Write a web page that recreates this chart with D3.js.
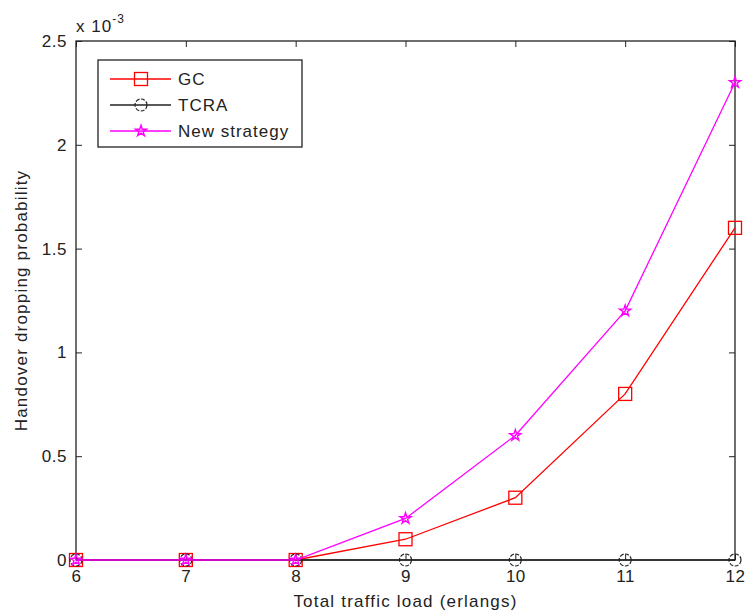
<!DOCTYPE html>
<html>
<head>
<meta charset="utf-8">
<script src="https://cdn.jsdelivr.net/npm/d3@7"></script>
<style>
  body { margin: 0; background: #fff; }
  text { font-family: "Liberation Sans", Arial, sans-serif; fill: #222; letter-spacing: 1px; }
</style>
</head>
<body>
<svg id="chart" width="746" height="615"></svg>
<script>
// chart data (values in units of 1e-3)
const loads = [6, 7, 8, 9, 10, 11, 12];
const gcValues = [0, 0, 0, 0.1, 0.3, 0.8, 1.6];
const tcraValues = [0, 0, 0, 0, 0, 0, 0];
const newValues = [0, 0, 0, 0.2, 0.6, 1.2, 2.3];
const yTicks = [0, 0.5, 1, 1.5, 2, 2.5];
const seriesNames = ["GC", "TCRA", "New strategy"];

const svg = d3.select("#chart");
const margin = { left: 76, right: 11, top: 41, bottom: 55 };
const width = 746, height = 615;

const x = d3.scaleLinear().domain([6, 12]).range([margin.left, width - margin.right]);
const y = d3.scaleLinear().domain([0, 2.5]).range([height - margin.bottom, margin.top]);

// axes with inward ticks, mirrored on top/right
const tick = 6;
svg.append("g")
  .attr("transform", `translate(0,${y(0)})`)
  .call(d3.axisBottom(x).tickValues(loads).tickSizeInner(-tick).tickSizeOuter(0).tickPadding(10).tickFormat(d3.format("d")))
  .call(g => g.select(".domain").remove());
svg.append("g")
  .attr("transform", `translate(0,${y(2.5)})`)
  .call(d3.axisTop(x).tickValues(loads).tickSizeInner(-tick).tickSizeOuter(0).tickFormat(""))
  .call(g => g.select(".domain").remove());
svg.append("g")
  .attr("transform", `translate(${x(6)},0)`)
  .call(d3.axisLeft(y).tickValues(yTicks).tickSizeInner(-tick).tickSizeOuter(0).tickPadding(9).tickFormat(d => d3.format("")(d)))
  .call(g => g.select(".domain").remove());
svg.append("g")
  .attr("transform", `translate(${x(12)},0)`)
  .call(d3.axisRight(y).tickValues(yTicks).tickSizeInner(-tick).tickSizeOuter(0).tickFormat(""))
  .call(g => g.select(".domain").remove());

svg.selectAll(".tick line").attr("stroke", "#222");
svg.selectAll(".tick text").style("font-size", "17px").style("letter-spacing", "0.5px").attr("fill", "#222");

svg.append("rect")
  .attr("x", x(6)).attr("y", y(2.5))
  .attr("width", x(12) - x(6)).attr("height", y(0) - y(2.5))
  .attr("fill", "none").attr("stroke", "#222").attr("stroke-width", 1.3);

// markers
const starPath = d3.symbol(d3.symbolStar, 38)();
function drawMarker(g, kind, color, cx, cy) {
  if (kind === "square") {
    g.append("rect").attr("x", cx - 6.5).attr("y", cy - 6.5).attr("width", 13).attr("height", 13)
      .attr("fill", "none").attr("stroke", color).attr("stroke-width", 1.3);
  } else if (kind === "circle") {
    g.append("circle").attr("cx", cx).attr("cy", cy).attr("r", 6)
      .attr("fill", "none").attr("stroke", color).attr("stroke-width", 1.2).attr("stroke-dasharray", "4,1.5");
  } else {
    g.append("path").attr("d", starPath).attr("transform", `translate(${cx},${cy})`)
      .attr("fill", "none").attr("stroke", color).attr("stroke-width", 1.4);
  }
}

const series = [
  { name: seriesNames[0], values: gcValues, color: "#ff0000", marker: "square" },
  { name: seriesNames[1], values: tcraValues, color: "#222222", marker: "circle" },
  { name: seriesNames[2], values: newValues, color: "#ff00ff", marker: "star" }
];

const line = d3.line().x((d, i) => x(loads[i])).y(d => y(d));
series.forEach(s => {
  const g = svg.append("g");
  g.append("path").datum(s.values).attr("d", line)
    .attr("fill", "none").attr("stroke", s.color).attr("stroke-width", 1.3);
  s.values.forEach((v, i) => drawMarker(g, s.marker, s.color, x(loads[i]), y(v)));
});

// legend
const legend = svg.append("g");
legend.append("rect").attr("x", 98).attr("y", 60).attr("width", 204).attr("height", 87)
  .attr("fill", "#fff").attr("stroke", "#222").attr("stroke-width", 1.3);
series.forEach((s, i) => {
  const ly = 79 + i * 26;
  legend.append("line").attr("x1", 110).attr("x2", 171).attr("y1", ly).attr("y2", ly)
    .attr("stroke", s.color).attr("stroke-width", 1.3);
  drawMarker(legend, s.marker, s.color, 141, ly);
  legend.append("text").attr("x", 178).attr("y", ly + 6).style("font-size", "17px").text(s.name);
});

// labels
svg.append("text").attr("x", (x(6) + x(12)) / 2).attr("y", 607).attr("text-anchor", "middle")
  .style("font-size", "17px").style("letter-spacing", "1.2px").text("Total traffic load (erlangs)");
svg.append("text").attr("transform", `translate(27,${(y(0) + y(2.5)) / 2}) rotate(-90)`)
  .attr("text-anchor", "middle").style("font-size", "17px").style("letter-spacing", "1.2px")
  .text("Handover dropping probability");
const exp = svg.append("text").attr("x", 76).attr("y", 32).style("font-size", "17px");
exp.append("tspan").text("x 10");
exp.append("tspan").attr("dy", -9).style("font-size", "12px").text("-3");
</script>
</body>
</html>
